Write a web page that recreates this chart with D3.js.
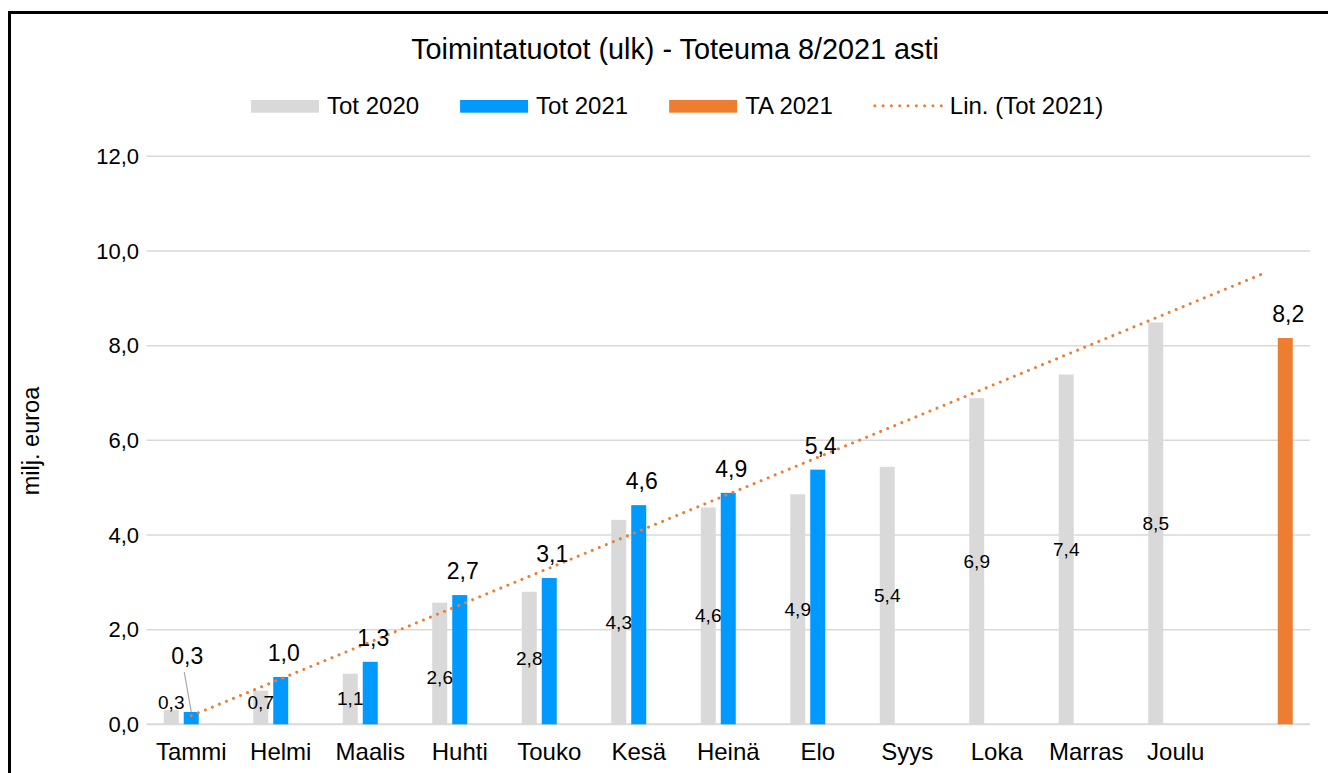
<!DOCTYPE html>
<html>
<head>
<meta charset="utf-8">
<script src="https://cdn.jsdelivr.net/npm/d3@7"></script>
<style>
  body { margin: 0; background: #fff; }
  svg { display: block; font-family: "Liberation Sans", Arial, sans-serif; }
</style>
</head>
<body>
<svg id="chart" width="1328" height="773"></svg>
<script>
// data
const categories = ["Tammi", "Helmi", "Maalis", "Huhti", "Touko", "Kesä", "Heinä", "Elo", "Syys", "Loka", "Marras", "Joulu", " "];
const tot2020 = [0.30, 0.71, 1.07, 2.57, 2.80, 4.32, 4.58, 4.86, 5.44, 6.89, 7.39, 8.49, null];
const tot2021 = [0.26, 1.00, 1.32, 2.73, 3.09, 4.63, 4.89, 5.38, null, null, null, null, null];
const ta2021 = [null, null, null, null, null, null, null, null, null, null, null, null, 8.16];
const trendTot2021 = [0.18, 9.54]; // Lin. (Tot 2021), first and last point
const yTicks = [0, 2, 4, 6, 8, 10, 12];
const seriesNames = ["Tot 2020", "Tot 2021", "TA 2021"];
const seriesColors = ["#D9D9D9", "#0099FF", "#ED7D31"];

const W = 1328, H = 773;
const font = '"Liberation Sans", Arial, sans-serif';
const fmt = d => d3.format(".1f")(d).replace(".", ",");

const svg = d3.select("#chart");

// outer frame (runs off the picture right and bottom)
svg.append("path")
    .attr("d", `M9.5,${H} V12.5 H${W}`)
    .attr("fill", "none")
    .attr("stroke", "#000")
    .attr("stroke-width", 3);

// title
svg.append("text")
    .attr("x", 675)
    .attr("y", 59)
    .attr("text-anchor", "middle")
    .style("font-size", "28.8px")
    .attr("fill", "#000")
    .text("Toimintatuotot (ulk) - Toteuma 8/2021 asti");

// scales
const x0 = d3.scaleBand()
    .domain(categories)
    .range([146.5, 1310]);

const bw = x0.bandwidth();
const x1 = d3.scaleBand()
    .domain(seriesNames)
    .range([(bw - 55) / 2, (bw + 55) / 2])
    .paddingInner(0.25);

const y = d3.scaleLinear()
    .domain([0, 12])
    .range([724.3, 156.3]);

// gridlines
svg.append("g")
    .selectAll("line")
    .data(yTicks)
    .enter()
    .append("line")
    .attr("x1", 146.5)
    .attr("x2", 1310)
    .attr("y1", d => y(d))
    .attr("y2", d => y(d))
    .attr("stroke", "#D9D9D9")
    .attr("stroke-width", d => d === 0 ? 2 : 1.5);

// y axis labels
const yAxis = d3.axisLeft(y)
    .tickValues(yTicks)
    .tickSize(0)
    .tickPadding(0)
    .tickFormat(fmt);

svg.append("g")
    .attr("transform", "translate(139,0)")
    .call(yAxis)
    .call(g => g.select(".domain").remove())
    .call(g => g.selectAll("text")
        .style("font-family", font)
        .style("font-size", "22px")
        .attr("fill", "#000"));

// y title
svg.append("text")
    .attr("transform", "translate(31,441) rotate(-90)")
    .attr("text-anchor", "middle")
    .attr("dominant-baseline", "central")
    .style("font-size", "23.5px")
    .attr("fill", "#000")
    .text("milj. euroa");

// x axis labels
const xAxis = d3.axisBottom(x0)
    .tickSize(0)
    .tickPadding(0);

svg.append("g")
    .attr("transform", "translate(0,760)")
    .call(xAxis)
    .call(g => g.select(".domain").remove())
    .call(g => g.selectAll("text")
        .attr("dy", 0)
        .style("font-family", font)
        .style("font-size", "24px")
        .attr("fill", "#000"));

// bars
const allSeries = [tot2020, tot2021, ta2021];
const barData = [];
allSeries.forEach((vals, s) => {
    vals.forEach((v, i) => {
        if (v !== null) barData.push({ s: s, name: seriesNames[s], cat: categories[i], i: i, v: v });
    });
});

svg.append("g")
    .selectAll("rect")
    .data(barData)
    .enter()
    .append("rect")
    .attr("x", d => x0(d.cat) + x1(d.name))
    .attr("width", x1.bandwidth())
    .attr("y", d => y(d.v))
    .attr("height", d => y(0) - y(d.v))
    .attr("fill", d => seriesColors[d.s]);

// trendline
const trendCats = [categories[0], categories[categories.length - 1]];
svg.append("path")
    .datum(trendTot2021.map((v, k) => [x0(trendCats[k]) + bw / 2, y(v)]))
    .attr("d", d3.line())
    .attr("fill", "none")
    .attr("stroke", "#ED7D31")
    .attr("stroke-width", 3)
    .attr("stroke-linecap", "round")
    .attr("stroke-dasharray", "0.01 7.6");

// labels inside gray bars
const grayNudge = { 3: 14 };
svg.append("g")
    .selectAll("text")
    .data(barData.filter(d => d.s === 0))
    .enter()
    .append("text")
    .attr("x", d => x0(d.cat) + x1(d.name) + x1.bandwidth() / 2)
    .attr("y", d => Math.min((y(d.v) + y(0)) / 2, 702) + (grayNudge[d.i] || 0))
    .attr("text-anchor", "middle")
    .attr("dominant-baseline", "central")
    .style("font-size", "19px")
    .attr("fill", "#000")
    .text(d => fmt(d.v));

// labels above blue / orange bars
const topNudge = { "1-0": [-7, -32] };
const topLabels = barData.filter(d => d.s > 0);
svg.append("g")
    .selectAll("g")
    .data(topLabels)
    .enter()
    .append("g")
    .each(function (d) {
        const g = d3.select(this);
        const cx = x0(d.cat) + x1(d.name) + x1.bandwidth() / 2;
        const n = topNudge[d.s + "-" + d.i] || [0, 0];
        const lx = cx + 3 + n[0];
        const ly = y(d.v) - 24 + n[1];
        if (topNudge[d.s + "-" + d.i]) {
            g.append("line")
                .attr("x1", lx - 3)
                .attr("y1", ly + 16)
                .attr("x2", cx)
                .attr("y2", y(d.v))
                .attr("stroke", "#A6A6A6")
                .attr("stroke-width", 1.2);
        }
        g.append("text")
            .attr("x", lx)
            .attr("y", ly)
            .attr("text-anchor", "middle")
            .attr("dominant-baseline", "central")
            .style("font-size", "23px")
            .attr("fill", "#000")
            .text(fmt(d.v));
    });

// legend
const legendItems = [
    { name: "Tot 2020", type: "rect", color: seriesColors[0] },
    { name: "Tot 2021", type: "rect", color: seriesColors[1] },
    { name: "TA 2021", type: "rect", color: seriesColors[2] },
    { name: "Lin. (Tot 2021)", type: "line", color: "#ED7D31" }
];
const legendStarts = [];
const legend = svg.append("g");
let lxPos = 251;
legendItems.forEach(item => {
    const g = legend.append("g").attr("transform", `translate(${lxPos},0)`);
    if (item.type === "rect") {
        g.append("rect")
            .attr("x", 0)
            .attr("y", 100)
            .attr("width", 68)
            .attr("height", 12.7)
            .attr("fill", item.color);
    } else {
        g.append("line")
            .attr("x1", 1)
            .attr("x2", 68)
            .attr("y1", 105.7)
            .attr("y2", 105.7)
            .attr("stroke", item.color)
            .attr("stroke-width", 3)
            .attr("stroke-linecap", "round")
            .attr("stroke-dasharray", "0.01 8.3");
    }
    const t = g.append("text")
        .attr("x", 76)
        .attr("y", 114)
        .style("font-size", "24px")
        .attr("fill", "#000")
        .text(item.name);
    lxPos += 76 + t.node().getComputedTextLength() + 41;
});
</script>
</body>
</html>
